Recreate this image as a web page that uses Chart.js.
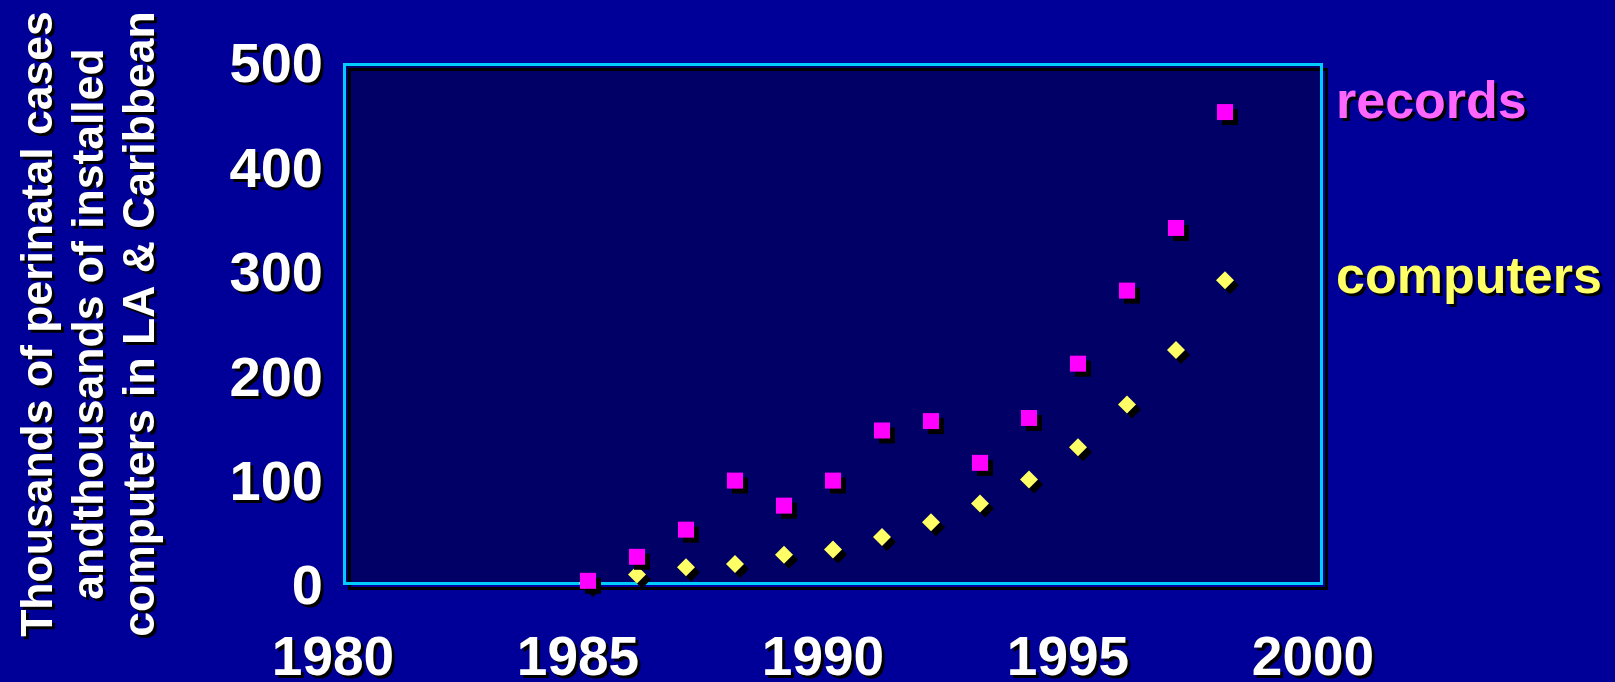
<!DOCTYPE html>
<html>
<head>
<meta charset="utf-8">
<title>Records and computers</title>
<script src="https://cdn.jsdelivr.net/npm/chart.js@4"></script>
<style>
    html, body { margin: 0; padding: 0; background: #000099; }
    canvas { display: block; }
</style>
</head>
<body>
<canvas id="recordsChart" width="1615" height="682"></canvas>
<script>
// data
const years = [1985, 1986, 1987, 1988, 1989, 1990, 1991, 1992, 1993, 1994, 1995, 1996, 1997, 1998];
const recordValues = [4, 27, 53, 100, 76, 100, 148, 157, 117, 160, 212, 282, 342, 453];
const computerValues = [2, 10, 17, 20, 29, 34, 46, 60, 78, 101, 132, 173, 225, 292];
const seriesNames = ['records', 'computers'];
const legendColors = ['#ff66ff', '#ffff66'];
const yTitle = ['Thousands of perinatal cases', 'andthousands of installed', 'computers in LA & Caribbean'];

const FONT = '"Liberation Sans", Arial, sans-serif';

function toPoints(values) {
    return years.map((year, i) => ({ x: year, y: values[i] }));
}

function setShadow(ctx, off) {
    ctx.shadowColor = '#000000';
    ctx.shadowBlur = 0;
    ctx.shadowOffsetX = off;
    ctx.shadowOffsetY = off;
}

const slidePlugin = {
    id: 'slide',
    beforeDraw(chart) {
        const ctx = chart.ctx;
        const a = chart.chartArea;
        ctx.shadowColor = 'transparent';
        ctx.fillStyle = '#000066';
        ctx.fillRect(a.left, a.top, a.right - a.left, a.bottom - a.top);
        // text of axes gets a hard drop shadow
        setShadow(ctx, 3);
    },
    beforeDatasetsDraw(chart) {
        const ctx = chart.ctx;
        const a = chart.chartArea;
        setShadow(ctx, 5);
        ctx.strokeStyle = '#00ccff';
        ctx.lineWidth = 3;
        ctx.strokeRect(a.left + 1.5, a.top + 1.5, a.right - a.left - 3, a.bottom - a.top - 3);
        setShadow(ctx, 5);
    },
    afterDatasetsDraw(chart) {
        const ctx = chart.ctx;
        const a = chart.chartArea;
        setShadow(ctx, 3);
        ctx.font = 'bold 52px ' + FONT;
        ctx.textAlign = 'left';
        ctx.textBaseline = 'alphabetic';
        const baselines = [118, 293];
        chart.data.datasets.forEach((ds, i) => {
            ctx.fillStyle = legendColors[i];
            ctx.fillText(ds.label, a.right + 13, baselines[i]);
        });
    },
    afterDraw(chart) {
        chart.ctx.shadowColor = 'transparent';
        chart.ctx.shadowOffsetX = 0;
        chart.ctx.shadowOffsetY = 0;
    }
};

const ctx = document.getElementById('recordsChart').getContext('2d');
new Chart(ctx, {
    type: 'scatter',
    data: {
        datasets: [{
            label: seriesNames[0],
            data: toPoints(recordValues),
            pointStyle: 'rect',
            pointRadius: 11.3,
            pointHoverRadius: 11.3,
            backgroundColor: '#ff00ff',
            borderWidth: 0,
            clip: false
        }, {
            label: seriesNames[1],
            data: toPoints(computerValues),
            pointStyle: 'rectRot',
            pointRadius: 9,
            pointHoverRadius: 9,
            backgroundColor: '#ffff66',
            borderWidth: 0,
            clip: false
        }]
    },
    options: {
        responsive: false,
        animation: false,
        layout: { padding: { top: 63, right: 292, left: 0, bottom: 0 } },
        plugins: {
            legend: { display: false },
            tooltip: { enabled: false }
        },
        scales: {
            x: {
                type: 'linear',
                min: 1980,
                max: 2000,
                grid: { display: false },
                border: { display: false },
                ticks: {
                    stepSize: 5,
                    color: '#ffffff',
                    padding: 34,
                    labelOffset: -10,
                    maxRotation: 0,
                    font: { family: FONT, size: 55, weight: 'bold' },
                    callback: value => String(value)
                },
                afterFit(scale) { scale.height = 97; }
            },
            y: {
                min: 0,
                max: 500,
                grid: { display: false },
                border: { display: false },
                ticks: {
                    stepSize: 100,
                    color: '#ffffff',
                    padding: 12,
                    labelOffset: 4,
                    font: { family: FONT, size: 56, weight: 'bold' }
                },
                title: {
                    display: true,
                    text: yTitle,
                    color: '#ffffff',
                    padding: { top: 14, bottom: 0 },
                    font: { family: FONT, size: 44.5, weight: 'bold', lineHeight: 1.15 }
                },
                afterFit(scale) { scale.width = 343; }
            }
        }
    },
    plugins: [slidePlugin]
});
</script>
</body>
</html>
